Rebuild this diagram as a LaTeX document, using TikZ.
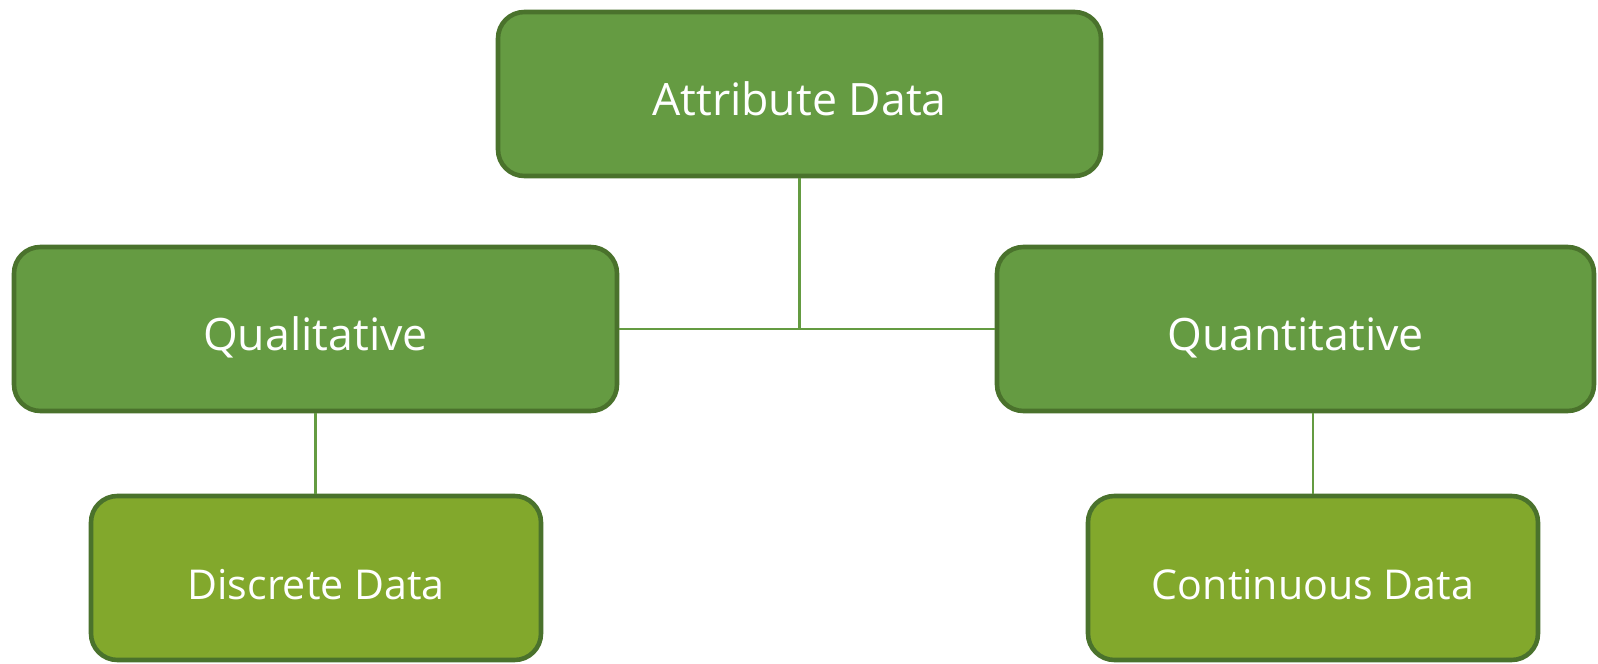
\documentclass[tikz,border=0pt]{standalone}
\usepackage{fontspec}
\setmainfont{Open Sans}
\usepackage{tikz}
\usetikzlibrary{positioning, calc}

\definecolor{boxgreen}{RGB}{101,155,66}
\definecolor{leafgreen}{RGB}{130,168,44}
\definecolor{edgegreen}{RGB}{74,114,44}
\definecolor{linkgreen}{RGB}{100,155,65}

\tikzset{
  catbox/.style={draw=edgegreen, line width=1.3pt, fill=boxgreen,
                 rounded corners=7.5pt, minimum width=6.03cm,
                 minimum height=1.64cm, text=white,
                 text height=12pt, text depth=0pt,
                 font=\fontsize{12.7}{15}\selectfont},
  leafbox/.style={catbox, fill=leafgreen, minimum width=4.5cm,
                  font=\fontsize{11.7}{15}\selectfont},
  link/.style={draw=linkgreen, line width=0.6pt}
}

\begin{document}
\begin{tikzpicture}

  %% ── Canvas ─────────────────────────────────────────────────
  \useasboundingbox (0, 0) rectangle (15.98, -6.64);

  %% ── Top level ──────────────────────────────────────────────
  \node[catbox] (attr) at (7.995, -0.94) {Attribute Data};

  %% ── Second level ───────────────────────────────────────────
  \node[catbox] (qual) at (3.155, -3.29) {Qualitative};
  \node[catbox, minimum width=5.97cm] (quan) at (12.955, -3.29)
    {Quantitative};

  %% ── Leaves ─────────────────────────────────────────────────
  \node[leafbox] (disc) at (3.16, -5.78) {Discrete Data};
  \node[leafbox] (cont) at (13.13, -5.78) {Continuous Data};

  %% ── Connectors ─────────────────────────────────────────────
  \coordinate (junc) at (attr.south |- qual.east);
  \draw[link] (attr.south) -- (junc);
  \draw[link] (qual.east) -- (quan.west);
  \draw[link] (qual.south) -- (qual.south |- disc.north);
  \draw[link] (cont.north |- quan.south) -- (cont.north);

\end{tikzpicture}
\end{document}
